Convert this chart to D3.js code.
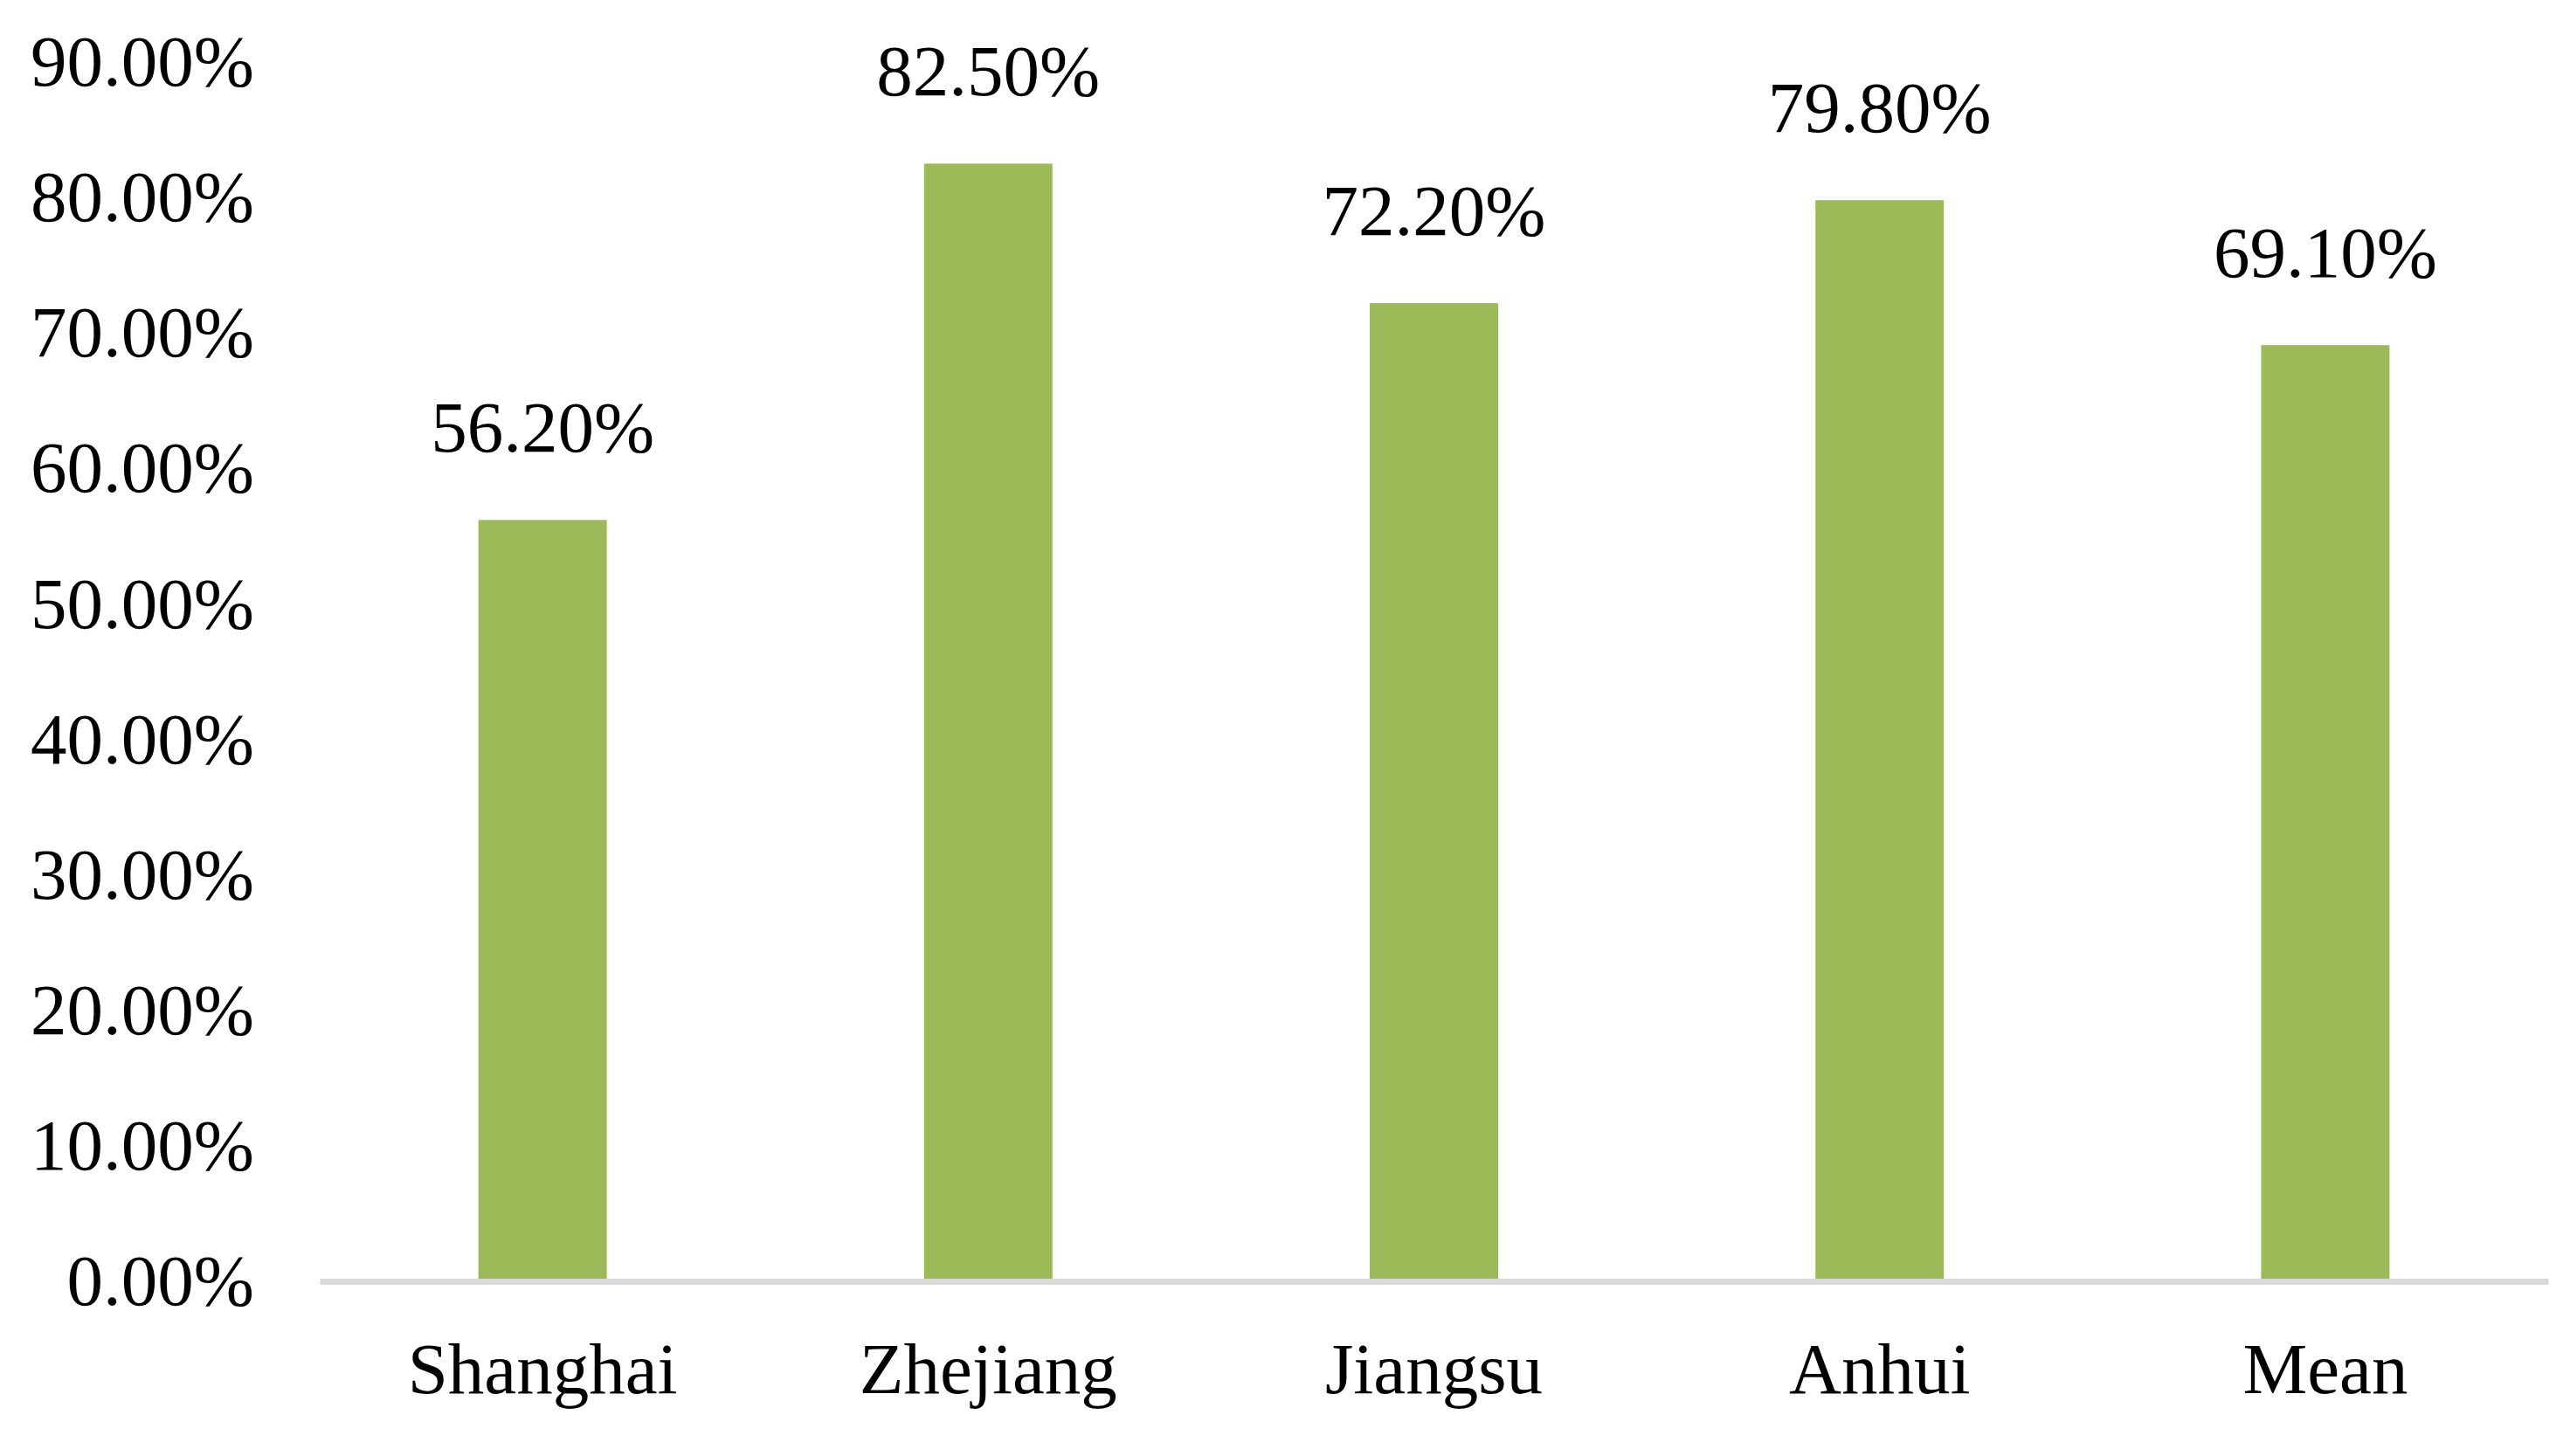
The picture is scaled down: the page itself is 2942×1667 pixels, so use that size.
<!DOCTYPE html>
<html>
<head>
<meta charset="utf-8">
<script src="https://cdn.jsdelivr.net/npm/d3@7"></script>
<style>
  html, body { margin: 0; padding: 0; background: #fff; }
  svg { display: block; }
</style>
</head>
<body>
<div id="chart"></div>
<script>
// data
var regions = ["Shanghai", "Zhejiang", "Jiangsu", "Anhui", "Mean"];
var shares = [56.2, 82.5, 72.2, 79.8, 69.1];
var yTicks = [0, 10, 20, 30, 40, 50, 60, 70, 80, 90];

function renderChart() {
    var width = 2942,
        height = 1667;

    var margin = { top: 71, right: 25, bottom: 200, left: 366 };

    var svg = d3.select("#chart")
        .append("svg")
        .attr("width", width)
        .attr("height", height);

    var x = d3.scaleBand()
        .domain(regions)
        .range([margin.left, width - margin.right])
        .paddingInner(0.712)
        .paddingOuter(0.356);

    var y = d3.scaleLinear()
        .domain([0, 90])
        .range([height - margin.bottom, margin.top]);

    var font = "'Liberation Serif', 'Times New Roman', serif";

    // y axis, labels only
    var yAxis = svg.append("g")
        .attr("transform", `translate(${margin.left},0)`)
        .call(d3.axisLeft(y)
            .tickValues(yTicks)
            .tickSize(0)
            .tickPadding(75)
            .tickFormat(d => d.toFixed(2) + "%"));
    yAxis.select(".domain").remove();
    yAxis.selectAll("text")
        .attr("font-family", font)
        .attr("font-size", 83)
        .attr("fill", "#000");

    // bars
    svg.append("g")
        .selectAll("rect")
        .data(shares)
        .join("rect")
        .attr("x", (d, i) => x(regions[i]))
        .attr("y", d => y(d))
        .attr("width", x.bandwidth())
        .attr("height", d => y(0) - y(d))
        .attr("fill", "#9bbb59");

    // x axis with grey baseline
    var xAxis = svg.append("g")
        .attr("transform", `translate(0,${y(0)})`)
        .call(d3.axisBottom(x).tickSize(0).tickPadding(69));
    xAxis.select(".domain")
        .attr("stroke", "#d9d9d9")
        .attr("stroke-width", 7);
    xAxis.selectAll("text")
        .attr("font-family", font)
        .attr("font-size", 83)
        .attr("fill", "#000");

    // value labels
    svg.append("g")
        .selectAll("text")
        .data(shares)
        .join("text")
        .attr("x", (d, i) => x(regions[i]) + x.bandwidth() / 2)
        .attr("y", d => y(d) - 78)
        .attr("text-anchor", "middle")
        .attr("font-family", font)
        .attr("font-size", 83)
        .attr("fill", "#000")
        .text(d => d.toFixed(2) + "%");
}

document.addEventListener("DOMContentLoaded", function () {
    renderChart();
});
</script>
</body>
</html>
